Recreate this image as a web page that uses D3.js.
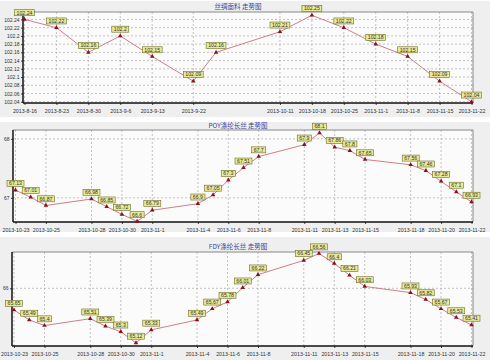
<!DOCTYPE html>
<html><head><meta charset="utf-8">
<script src="https://cdn.jsdelivr.net/npm/d3@7"></script>
<style>
html,body{margin:0;padding:0;background:#fff;}
svg{display:block;}
</style></head>
<body>
<svg id="c" width="490" height="360"></svg>
<script>
// ---------- data ----------
const silkTitle = "丝绸面料 走势图";
const silkDates = ["2013-8-16","2013-8-23","2013-8-30","2013-9-6","2013-9-13","2013-9-22","2013-9-27","2013-10-11","2013-10-18","2013-10-25","2013-11-1","2013-11-8","2013-11-15","2013-11-22"];
const silkValues = [102.24,102.22,102.16,102.2,102.15,102.09,102.16,102.21,102.25,102.22,102.18,102.15,102.09,102.04];
const silkTickDates = ["2013-8-16","2013-8-23","2013-8-30","2013-9-6","2013-9-13","2013-9-22","2013-10-11","2013-10-18","2013-10-25","2013-11-1","2013-11-8","2013-11-15","2013-11-22"];
const silkYTicks = [102.04,102.06,102.08,102.1,102.12,102.14,102.16,102.18,102.2,102.22,102.24];
const silkYDomain = [102.037, 102.258];

const fiberDates = ["2013-10-23","2013-10-24","2013-10-25","2013-10-28","2013-10-29","2013-10-30","2013-10-31","2013-11-1","2013-11-4","2013-11-5","2013-11-6","2013-11-7","2013-11-8","2013-11-11","2013-11-12","2013-11-13","2013-11-14","2013-11-15","2013-11-18","2013-11-19","2013-11-20","2013-11-21","2013-11-22"];
const fiberTickDates = ["2013-10-23","2013-10-25","2013-10-28","2013-10-30","2013-11-1","2013-11-4","2013-11-6","2013-11-8","2013-11-11","2013-11-13","2013-11-15","2013-11-18","2013-11-20","2013-11-22"];

const poyTitle = "POY涤纶长丝 走势图";
const poyValues = [67.13,67.01,66.87,66.98,66.85,66.72,66.6,66.79,66.9,67.05,67.3,67.51,67.7,67.9,68.1,67.86,67.8,67.65,67.56,67.46,67.28,67.1,66.93];
const poyYTicks = [67,68];
const poyYDomain = [66.59, 68.15];

const fdyTitle = "FDY涤纶长丝 走势图";
const fdyValues = [65.65,65.49,65.4,65.51,65.39,65.3,65.12,65.33,65.49,65.67,65.78,66.01,66.22,66.45,66.56,66.4,66.21,66.03,65.93,65.82,65.67,65.53,65.41];
const fdyYTicks = [66];
const fdyYDomain = [65.07, 66.585];

// ---------- drawing ----------
const parse = d3.timeParse("%Y-%m-%d");
const svg = d3.select("#c");
const FONT = "'Liberation Sans', Arial, sans-serif";

function panel(o) {
  const g = svg.append("g");
  g.append("rect").attr("x",0).attr("y",o.bgTop).attr("width",490).attr("height",o.bgBottom-o.bgTop).attr("fill","#efefef");
  g.append("rect").attr("x",o.left).attr("y",o.top).attr("width",o.right-o.left).attr("height",o.bottom-o.top).attr("fill","#fbfbfb");

  const dates = o.dates.map(parse);
  const x = d3.scaleTime().domain([dates[0], dates[dates.length-1]]).range([o.x0, o.x1]);
  const y = d3.scaleLinear().domain(o.yDomain).range([o.bottom, o.top]);

  // grid
  g.append("g").selectAll("line").data(o.yTicks).join("line")
    .attr("x1",o.left).attr("x2",o.right).attr("y1",d=>y(d)).attr("y2",d=>y(d))
    .attr("stroke","#aaa").attr("stroke-width",0.7).attr("stroke-dasharray","2,2");
  g.append("g").selectAll("line").data(o.ticks.map(parse)).join("line")
    .attr("x1",d=>x(d)).attr("x2",d=>x(d)).attr("y1",o.top).attr("y2",o.bottom)
    .attr("stroke","#aaa").attr("stroke-width",0.7).attr("stroke-dasharray","2,2");

  // frame
  g.append("line").attr("x1",o.left).attr("x2",o.right).attr("y1",o.top).attr("y2",o.top).attr("stroke","#888").attr("stroke-width",1);
  g.append("line").attr("x1",o.right).attr("x2",o.right).attr("y1",o.top).attr("y2",o.bottom).attr("stroke","#888").attr("stroke-width",1);

  // axes
  const xa = d3.axisBottom(x).tickValues(o.ticks.map(parse)).tickFormat(d3.timeFormat("%Y-%-m-%-d")).tickSize(2);
  const xg = g.append("g").attr("transform",`translate(0,${o.bottom})`).call(xa);
  xg.select(".domain").remove();
  xg.selectAll("text").attr("font-size",5.3).attr("font-family",FONT).attr("fill","#333").attr("dy","0.9em");
  xg.selectAll("line").attr("stroke","#444");

  const ya = d3.axisLeft(y).tickValues(o.yTicks).tickFormat(d=>String(+d.toFixed(2))).tickSize(2).tickPadding(1.5);
  const yg = g.append("g").attr("transform",`translate(${o.left},0)`).call(ya);
  yg.select(".domain").remove();
  yg.selectAll("text").attr("font-size",5).attr("font-family",FONT).attr("fill","#333");
  yg.selectAll("line").attr("stroke","#444");

  g.append("line").attr("x1",o.left).attr("x2",o.right).attr("y1",o.bottom).attr("y2",o.bottom).attr("stroke","#111").attr("stroke-width",1.5);
  g.append("line").attr("x1",o.left).attr("x2",o.left).attr("y1",o.top).attr("y2",o.bottom).attr("stroke","#111").attr("stroke-width",1.5);

  // title
  g.append("text").attr("x",238).attr("y",o.titleY).attr("text-anchor","middle")
    .attr("font-size",6.5).attr("font-family","'Noto Sans CJK SC', sans-serif").attr("fill","#3a3f9a").text(o.title);

  // line
  const pts = o.values.map((v,i)=>({d:dates[i], v}));
  g.append("path").datum(pts)
    .attr("d", d3.line().x(p=>x(p.d)).y(p=>y(p.v)))
    .attr("fill","none").attr("stroke","#c8707c").attr("stroke-width",0.9);

  // markers
  g.append("g").selectAll("path").data(pts).join("path")
    .attr("transform",p=>`translate(${x(p.d)},${y(p.v)})`)
    .attr("d", d3.symbol().type(d3.symbolTriangle).size(9))
    .attr("fill","#8a1020");

  // labels
  const lg = g.append("g").selectAll("g").data(pts).join("g")
    .attr("transform",p=>`translate(${x(p.d)},${y(p.v)-3.5})`);
  lg.append("rect").attr("fill","#eaea96").attr("stroke","#6b6b2a").attr("stroke-width",0.6);
  const txt = lg.append("text").attr("text-anchor","middle").attr("y",-1.4)
    .attr("font-size",5.2).attr("font-family",FONT).attr("fill","#333")
    .text(p=>String(p.v));
  txt.each(function(){
    const w = this.getComputedTextLength() + 4;
    d3.select(this.parentNode).select("rect").attr("x",-w/2).attr("y",-6.2).attr("width",w).attr("height",6);
  });
}

panel({title:silkTitle, dates:silkDates, values:silkValues, ticks:silkTickDates, yTicks:silkYTicks, yDomain:silkYDomain,
  bgTop:1, bgBottom:117, left:23, right:473, top:12, bottom:103, x0:24.5, x1:471.5, titleY:9});
panel({title:poyTitle, dates:fiberDates, values:poyValues, ticks:fiberTickDates, yTicks:poyYTicks, yDomain:poyYDomain,
  bgTop:122, bgBottom:232, left:13, right:473, top:130, bottom:222, x0:15.5, x1:471.5, titleY:128});
panel({title:fdyTitle, dates:fiberDates, values:fdyValues, ticks:fiberTickDates, yTicks:fdyYTicks, yDomain:fdyYDomain,
  bgTop:237, bgBottom:360, left:12, right:473, top:252, bottom:346, x0:14, x1:471.5, titleY:249});
</script>
</body></html>
